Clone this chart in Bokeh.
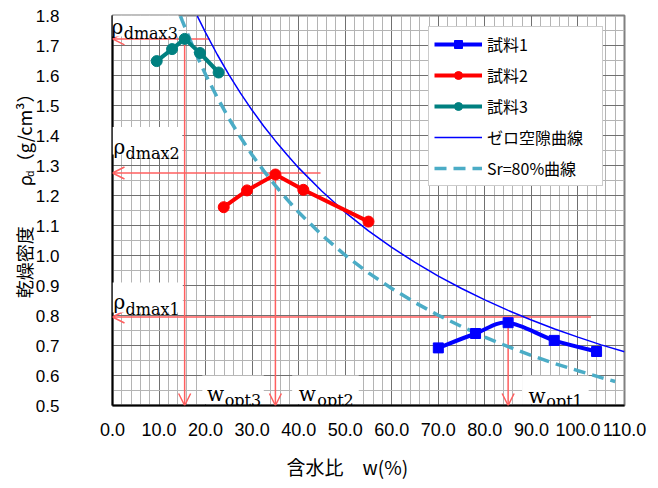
import numpy as np
from bokeh.plotting import figure
from bokeh.models import (Range1d, SingleIntervalTicker, FixedTicker, PrintfTickFormatter, Legend, LegendItem,
                          Label, Arrow, OpenHead, BoxAnnotation, LinearAxis)
from bokeh.embed import file_html
from bokeh.resources import INLINE

# ---------------- data ----------------
w1 = [70.0, 78.0, 85.0, 94.9, 104.0]
rho1 = [0.692, 0.740, 0.776, 0.717, 0.680]
w2 = [23.9, 28.9, 35.0, 41.0, 55.0]
rho2 = [1.161, 1.217, 1.270, 1.219, 1.113]
w3 = [9.5, 12.8, 15.5, 18.8, 22.8]
rho3 = [1.648, 1.688, 1.722, 1.675, 1.610]

# zero air void curve
w_zav = [18.2, 20, 22.5, 25, 27.5, 30, 32.5, 35, 37.5, 40, 45, 50, 55, 60, 65, 70, 75, 80, 85, 90, 95, 100, 105, 110]
rho_zav = [1.799, 1.743, 1.670, 1.603, 1.541, 1.484, 1.431, 1.382, 1.336, 1.292, 1.214, 1.144, 1.082, 1.027,
           0.977, 0.931, 0.890, 0.852, 0.817, 0.785, 0.755, 0.728, 0.702, 0.679]
# Sr = 80% curve
w_sr = [14.6, 15, 17.5, 20, 22.5, 25, 27.5, 30, 32.5, 35, 37.5, 40, 45, 50, 55, 60, 65, 70, 75, 80, 85, 90, 95, 100, 105, 108]
rho_sr = [1.798, 1.782, 1.688, 1.603, 1.527, 1.457, 1.394, 1.335, 1.282, 1.233, 1.187, 1.144, 1.068, 1.001, 0.942,
          0.890, 0.843, 0.801, 0.763, 0.728, 0.696, 0.667, 0.640, 0.616, 0.593, 0.580]

# optimum points (annotation)
w_opt = [85.0, 35.0, 15.5]
rho_dmax = [0.795, 1.275, 1.722]
h_end = [102.8, 44.7, 20.9]

names = ["試料1", "試料2", "試料3", "ゼロ空隙曲線", "Sr=80%曲線"]

X_MIN, X_MAX = 0, 110
Y_MIN, Y_MAX = 0.5, 1.8

ANN = "#ff5f5f"
JP = "Noto Sans CJK JP"
SANS = "Liberation Sans"
SERIF = "DejaVu Serif"
NB = "\u00a0"

p = figure(width=658, height=488, output_backend="svg", toolbar_location=None,
           x_range=Range1d(X_MIN, X_MAX), y_range=Range1d(Y_MIN, Y_MAX),
           min_border_left=112, min_border_right=34, min_border_top=15, min_border_bottom=83)
p.background_fill_color = "white"
p.border_fill_color = "white"
p.outline_line_color = "#808080"
p.outline_line_width = 2

p.xaxis.ticker = SingleIntervalTicker(interval=10, num_minor_ticks=5)
p.yaxis.ticker = SingleIntervalTicker(interval=0.1, num_minor_ticks=2)
p.xaxis.formatter = PrintfTickFormatter(format="%.1f")
p.yaxis.formatter = PrintfTickFormatter(format="%.1f")
for ax in (p.xaxis, p.yaxis):
    ax.major_tick_in = 0
    ax.major_tick_out = 0
    ax.minor_tick_in = 0
    ax.minor_tick_out = 0
    ax.axis_line_color = "black"
    ax.axis_line_width = 2
    ax.major_label_text_font = SANS
    ax.major_label_text_color = "black"
p.xaxis.major_label_text_font_size = "18px"
p.yaxis.major_label_text_font_size = "17px"
p.xaxis.major_label_standoff = 17
p.yaxis.major_label_standoff = 53

# x axis title
p.xaxis.axis_label = "含水比\u3000w(%)" + "\u3000\u3000" + NB
p.xaxis.axis_label_text_font = JP
p.xaxis.axis_label_text_font_size = "19px"
p.xaxis.axis_label_text_font_style = "normal"
p.xaxis.axis_label_text_color = "black"
p.xaxis.axis_label_standoff = 14

# y axis title: subscript "d" and main text on two label-only axes
ax_d = LinearAxis(ticker=FixedTicker(ticks=[]), axis_line_color=None, major_label_standoff=0,
                  major_tick_in=0, major_tick_out=0, minor_tick_in=0, minor_tick_out=0,
                  axis_label=NB * 24 + "d", axis_label_text_font=SANS, axis_label_text_font_size="11px",
                  axis_label_text_font_style="normal", axis_label_text_color="black", axis_label_standoff=-3)
ax_main = LinearAxis(ticker=FixedTicker(ticks=[]), axis_line_color=None, major_label_standoff=0,
                     major_tick_in=0, major_tick_out=0, minor_tick_in=0, minor_tick_out=0,
                     axis_label="\u3000" + NB * 5 + "乾燥密度\u3000\u3000" + NB + "ρ" + NB + "（g/cm³）",
                     axis_label_text_font=JP, axis_label_text_font_size="18px",
                     axis_label_text_font_style="normal", axis_label_text_color="black",
                     axis_label_standoff=-16)
p.add_layout(ax_d, "left")
p.add_layout(ax_main, "left")

p.xgrid.grid_line_color = "#707070"
p.ygrid.grid_line_color = "#707070"
p.xgrid.minor_grid_line_color = "#b4b4b4"
p.ygrid.minor_grid_line_color = "#b4b4b4"

# annotation line bodies (under the series)
p.segment(x0=h_end, y0=rho_dmax, x1=[X_MIN] * 3, y1=rho_dmax, line_color=ANN, line_width=1.5)
p.segment(x0=w_opt, y0=rho_dmax, x1=w_opt, y1=[Y_MIN] * 3, line_color=ANN, line_width=1.5)

# curves
r_sr = p.line(w_sr, rho_sr, line_color="#4bacc6", line_width=3.5, line_dash="12 7")
r_zav = p.line(w_zav, rho_zav, line_color="#0000ff", line_width=1.5)

# series 1 : smoothed line
x = np.array(w1)
y = np.array(rho1)
n = len(x)
xp = np.concatenate([[x[0]], x, [x[-1]]])
yp = np.concatenate([[y[0]], y, [y[-1]]])
cx0 = x[:-1] + (xp[2:n + 1] - xp[0:n - 1]) / 6
cy0 = y[:-1] + (yp[2:n + 1] - yp[0:n - 1]) / 6
cx1 = x[1:] - (xp[3:n + 2] - xp[1:n]) / 6
cy1 = y[1:] - (yp[3:n + 2] - yp[1:n]) / 6
r1l = p.bezier(x0=x[:-1], y0=y[:-1], x1=x[1:], y1=y[1:], cx0=cx0, cy0=cy0, cx1=cx1, cy1=cy1,
               line_color="#0000ff", line_width=4)
r1m = p.scatter(w1, rho1, marker="square", size=10, color="#0000ff")

r2l = p.line(w2, rho2, line_color="#ff0000", line_width=4)
r2m = p.scatter(w2, rho2, marker="circle", size=11, color="#ff0000")
r3l = p.line(w3, rho3, line_color="#008080", line_width=4)
r3m = p.scatter(w3, rho3, marker="circle", size=11, color="#008080")

# arrow heads
for i in range(3):
    p.add_layout(Arrow(end=OpenHead(size=12, line_color=ANN, line_width=1.5),
                       x_start=X_MIN + 1, y_start=rho_dmax[i], x_end=X_MIN, y_end=rho_dmax[i],
                       line_alpha=0))
    p.add_layout(Arrow(end=OpenHead(size=12, line_color=ANN, line_width=1.5),
                       x_start=w_opt[i], y_start=Y_MIN + 0.01, x_end=w_opt[i], y_end=Y_MIN,
                       line_alpha=0))

# white boxes behind labels
boxes = [(0, 14.2, 1.73, 1.83), (0, 15.0, 1.337, 1.428), (0, 15.1, 0.81, 0.91),
         (19.3, 32.5, 0.505, 0.6), (38.6, 52.9, 0.505, 0.6), (88.0, 102.3, 0.505, 0.6)]
for (l, r, b, t) in boxes:
    p.add_layout(BoxAnnotation(left=l, right=r, bottom=b, top=t, fill_color="white", fill_alpha=1,
                               line_alpha=0))

big = [("ρ", -0.2, 1.762), ("ρ", 0.2, 1.363), ("ρ", 0.2, 0.844),
       ("w", 20.3, 0.539), ("w", 40.0, 0.539), ("w", 89.4, 0.532)]
small = [("dmax3", 2.4, 1.741), ("dmax2", 2.8, 1.341), ("dmax1", 2.8, 0.819),
         ("opt3", 24.1, 0.518), ("opt2", 44.0, 0.518), ("opt1", 93.2, 0.513)]
for t, xx, yy in big:
    p.add_layout(Label(x=xx, y=yy, text=t, text_font=SERIF, text_font_size="20px",
                       text_baseline="alphabetic", text_align="left", text_color="black"))
for t, xx, yy in small:
    p.add_layout(Label(x=xx, y=yy, text=t, text_font=SERIF, text_font_size="16px",
                       text_baseline="alphabetic", text_align="left", text_color="black"))

legend = Legend(items=[
    LegendItem(label=names[0], renderers=[r1l, r1m]),
    LegendItem(label=names[1], renderers=[r2l, r2m]),
    LegendItem(label=names[2], renderers=[r3l, r3m]),
    LegendItem(label=names[3], renderers=[r_zav]),
    LegendItem(label=names[4], renderers=[r_sr]),
], location=(316, 219))
legend.label_text_font = JP
legend.label_text_font_size = "16px"
legend.label_text_color = "black"
legend.glyph_width = 48
legend.glyph_height = 20
legend.label_height = 20
legend.label_width = 110
legend.label_standoff = 5
legend.spacing = 7
legend.padding = 5
legend.margin = 0
legend.border_line_color = "#999999"
legend.border_line_width = 1
legend.background_fill_color = "white"
legend.background_fill_alpha = 1
p.add_layout(legend)

open("out.html", "w").write(file_html(p, INLINE))
